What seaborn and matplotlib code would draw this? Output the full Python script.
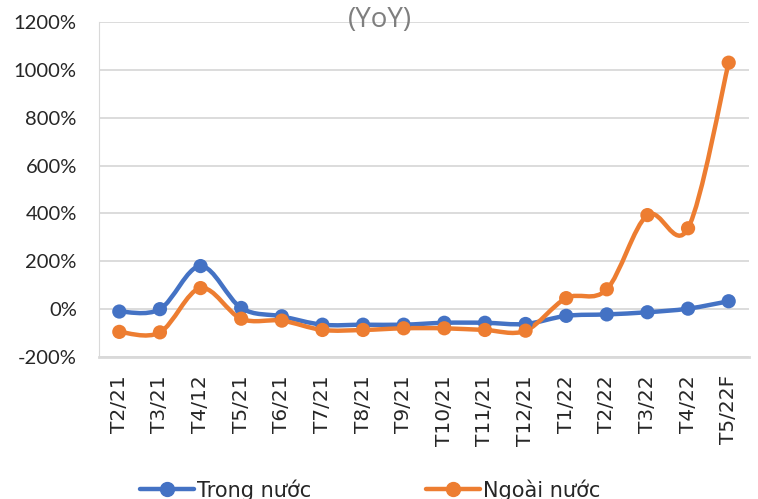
import numpy as np
import pandas as pd
import matplotlib
matplotlib.use("Agg")
import matplotlib.pyplot as plt
from matplotlib.path import Path
from matplotlib.patches import PathPatch
from matplotlib.lines import Line2D
import seaborn as sns

months = ["T2/21", "T3/21", "T4/12", "T5/21", "T6/21", "T7/21", "T8/21", "T9/21",
          "T10/21", "T11/21", "T12/21", "T1/22", "T2/22", "T3/22", "T4/22", "T5/22F"]
trong_nuoc = [-10, 0, 180, 5, -30, -65, -65, -65, -57, -57, -62, -28, -22, -13, 2, 33]
ngoai_nuoc = [-95, -97, 88, -40, -48, -87, -87, -80, -80, -87, -90, 46, 83, 393, 338, 1030]
yticks = [-200, 0, 200, 400, 600, 800, 1000, 1200]

BLUE = "#4472C4"
ORANGE = "#ED7D31"

df = pd.DataFrame({
    "month": months * 2,
    "x": list(range(len(months))) * 2,
    "value": trong_nuoc + ngoai_nuoc,
    "series": ["Trong nước"] * len(months) + ["Ngoài nước"] * len(months),
})

sns.set_style("white")
plt.rcParams["font.family"] = ["DejaVu Sans"]

fig = plt.figure(figsize=(7.58, 4.99), dpi=100)
ax = fig.add_axes([99 / 758, 1 - 357 / 499, 650 / 758, 335 / 499])


def smooth_path(xs, ys):
    # Excel-style smoothed line: cubic Bezier segments through each point
    pts = np.column_stack([xs, ys]).astype(float)
    n = len(pts)
    verts = [pts[0]]
    codes = [Path.MOVETO]
    for i in range(n - 1):
        p0 = pts[i - 1] if i > 0 else pts[i]
        p1, p2 = pts[i], pts[i + 1]
        p3 = pts[i + 2] if i + 2 < n else pts[i + 1]
        c1 = p1 + (p2 - p0) / 6
        c2 = p2 - (p3 - p1) / 6
        verts += [c1, c2, p2]
        codes += [Path.CURVE4] * 3
    return Path(verts, codes)


palette = {"Trong nước": BLUE, "Ngoài nước": ORANGE}
for name, sub in df.groupby("series", sort=False):
    ax.add_patch(PathPatch(smooth_path(sub["x"], sub["value"]), fill=False,
                           edgecolor=palette[name], lw=3.2, capstyle="round",
                           joinstyle="round", zorder=2))

sns.scatterplot(data=df, x="x", y="value", hue="series", palette=palette,
                s=105, edgecolor="none", legend=False, ax=ax, zorder=3)

ax.set_xlim(-0.5, len(months) - 0.5)
ax.set_ylim(-200, 1200)
ax.set_yticks(yticks)
ax.set_yticklabels([f"{v}%" for v in yticks], fontfamily="Lato", fontsize=14.5)
ax.set_xticks(range(len(months)))
ax.set_xticklabels(months, rotation=90, fontsize=14.5)
ax.tick_params(axis="y", length=0, pad=16)
ax.tick_params(axis="x", length=0, pad=13)
ax.set_xlabel("")
ax.set_ylabel("")
ax.yaxis.grid(True, color="#d9d9d9", lw=1.3)
ax.set_axisbelow(True)
for s in ["top", "right"]:
    ax.spines[s].set_visible(False)
ax.spines["left"].set_color("#d9d9d9")
ax.spines["bottom"].set_color("#d9d9d9")
ax.spines["bottom"].set_linewidth(2)

fig.text(380 / 758, 1 - 27 / 499, "(YoY)", ha="center", va="baseline",
         fontsize=20, color="#7f7f7f", fontfamily="Open Sans")

handles = [Line2D([], [], color=BLUE, lw=3.2, marker="o", ms=10),
           Line2D([], [], color=ORANGE, lw=3.2, marker="o", ms=10)]
fig.legend(handles, ["Trong nước", "Ngoài nước"], ncol=2, frameon=False,
           loc="center left", bbox_to_anchor=(121 / 758, 1 - 490 / 499),
           fontsize=15, handlelength=2.6, handletextpad=0.15, columnspacing=5.5)

fig.savefig("out.png", dpi=100)
